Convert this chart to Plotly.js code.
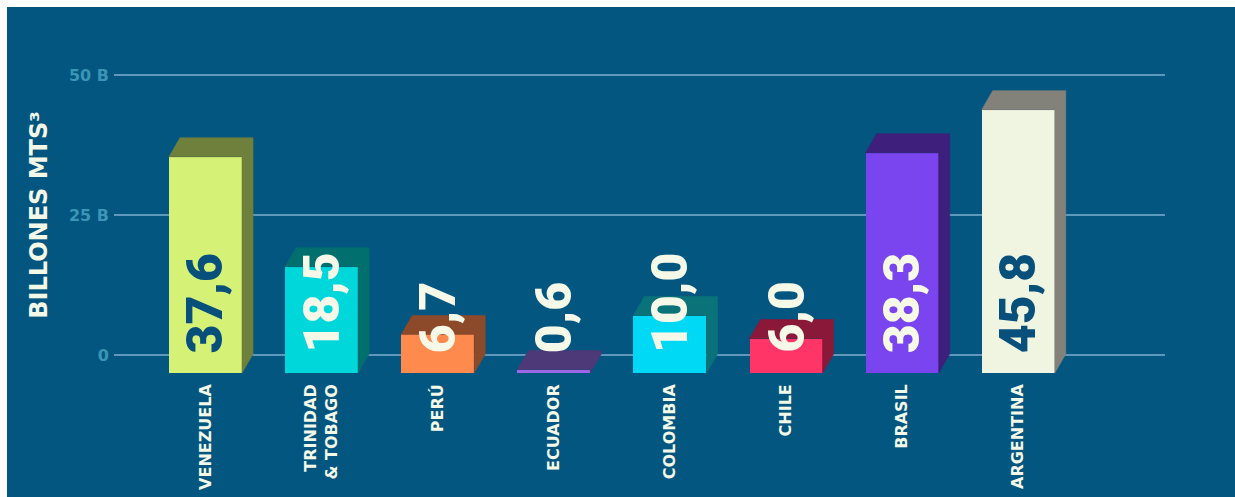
<!DOCTYPE html>
<html>
<head>
<meta charset="utf-8">
<script src="https://cdn.plot.ly/plotly-3.0.1.min.js"></script>
<style>
  html, body { margin: 0; padding: 0; background: #ffffff; }
  #chart { position: absolute; left: 7px; top: 7px; width: 1228px; height: 490px; }
</style>
</head>
<body>
<div id="chart"></div>
<script>
// ---- data ----
const categories = ['VENEZUELA', 'TRINIDAD<br>& TOBAGO', 'PERÚ', 'ECUADOR', 'COLOMBIA', 'CHILE', 'BRASIL', 'ARGENTINA'];
const values = [37.6, 18.5, 6.7, 0.6, 10.0, 6.0, 38.3, 45.8];
const valueLabels = ['37,6', '18,5', '6,7', '0,6', '10,0', '6,0', '38,3', '45,8'];
const yTickVals = [0, 25, 50];
const yTickText = ['0', '25 B', '50 B'];

// ---- styles ----
const frontColors = ['#d6f276', '#00d7da', '#ff8a4e', '#9c68e8', '#00d9f6', '#ff3467', '#7a45ee', '#f0f5e1'];
const shadeColors = ['#6e803b', '#006f6e', '#8c4a2a', '#4d3978', '#0a7379', '#8a1838', '#3e1f7b', '#83827a'];
const labelColors = ['#08507c', '#f6f9e8', '#f6f9e8', '#f6f9e8', '#f6f9e8', '#f6f9e8', '#f6f9e8', '#08507c'];
const cream = '#f4f8e6';
const bg = '#035680';

const barWidth = 0.629;   // in category units
const depthX = 0.095;     // 3D depth offset (x units)
const depthY = 3.3;       // 3D depth offset (bar-axis units)

const idx = values.map((_, i) => i);

const traces = [{
  type: 'bar',
  x: idx,
  y: values,
  width: barWidth,
  marker: { color: frontColors, line: { width: 0 } },
  xaxis: 'x', yaxis: 'y',
  hoverinfo: 'skip'
}];

// top + side faces of each bar (hexagon), derived from the values
values.forEach((v, i) => {
  const hw = barWidth / 2;
  const xs = [i - hw, i - hw + depthX, i + hw + depthX, i + hw + depthX, i + hw, i + hw, i - hw];
  const ys = [v, v + depthY, v + depthY, depthY, 0, v, v];
  traces.push({
    type: 'scatter', mode: 'lines', x: xs, y: ys,
    fill: 'toself', fillcolor: shadeColors[i],
    line: { width: 0.6, color: shadeColors[i] },
    xaxis: 'x', yaxis: 'y', hoverinfo: 'skip', showlegend: false
  });
});

const annotations = values.map((v, i) => ({
  x: i, y: 0, xref: 'x', yref: 'y2',
  text: valueLabels[i], textangle: -90, showarrow: false,
  xanchor: 'center', yanchor: 'bottom',
  font: { family: 'Roboto, Open Sans, sans-serif', size: 50, weight: 900, color: labelColors[i] }
}));

const layout = {
  width: 1228, height: 490,
  paper_bgcolor: bg, plot_bgcolor: bg,
  margin: { l: 107, r: 70, t: 43, b: 117 },
  showlegend: false,
  bargap: 0,
  xaxis: {
    range: [-0.788, 8.264],
    tickmode: 'array', tickvals: idx, ticktext: categories,
    tickangle: -90,
    tickfont: { family: 'DejaVu Sans, sans-serif', size: 16, weight: 'bold', color: cream },
    showgrid: false, zeroline: false, showline: false, ticks: ''
  },
  yaxis: {
    range: [-1.217, 56.17],
    showgrid: false, zeroline: false, showticklabels: false, showline: false, ticks: ''
  },
  yaxis2: {
    overlaying: 'y', side: 'left', anchor: 'x',
    range: [-4.464, 54.46],
    tickmode: 'array', tickvals: yTickVals, ticktext: yTickText,
    showgrid: true, gridcolor: '#5e98bd', gridwidth: 2,
    zeroline: false, showline: false, ticks: '',
    ticklabelstandoff: 4,
    tickfont: { family: 'DejaVu Sans, sans-serif', size: 16, weight: 'bold', color: '#3b95b7' },
    title: {
      text: 'BILLONES MTS³', standoff: 14,
      font: { family: 'DejaVu Sans, sans-serif', size: 24, weight: 'bold', color: cream }
    }
  },
  annotations: annotations
};

Plotly.newPlot('chart', traces, layout, { staticPlot: true, displayModeBar: false });
</script>
</body>
</html>
